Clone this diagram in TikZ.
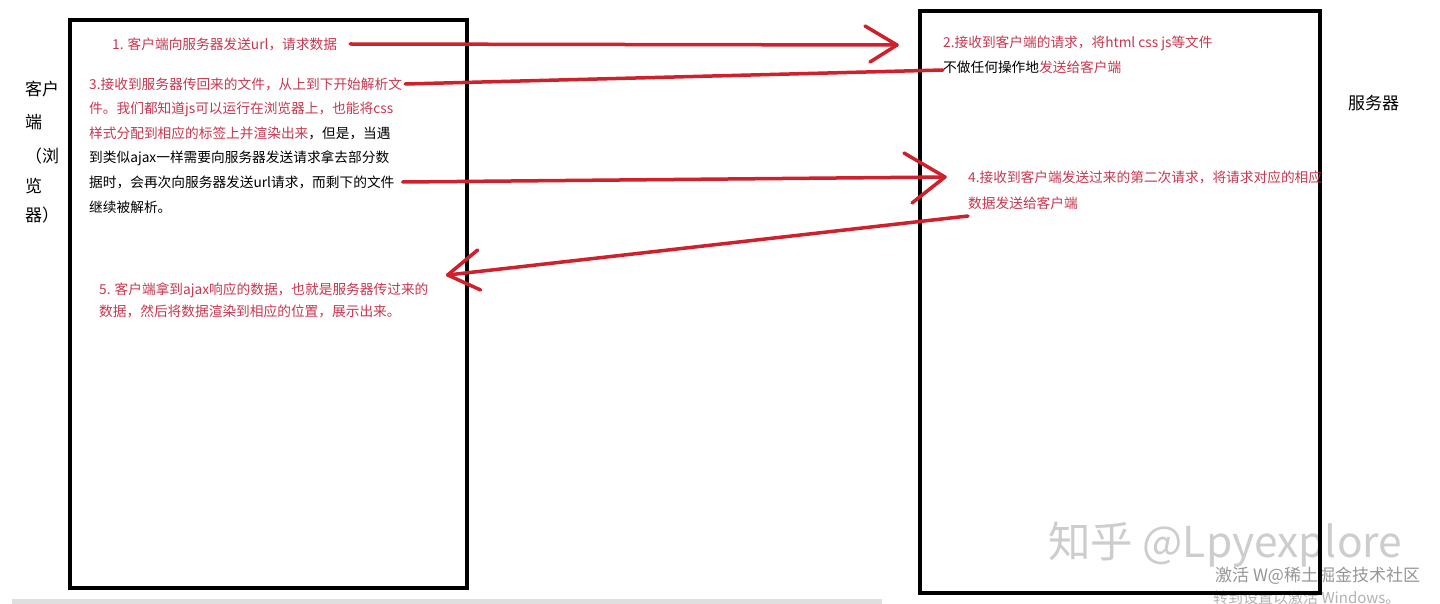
\documentclass[tikz,border=0pt]{standalone}
\usepackage{fontspec}
\newfontfamily\cjk{Noto Sans CJK SC}
\definecolor{tred}{RGB}{200,55,80}
\definecolor{ared}{RGB}{208,32,44}
\definecolor{wmgray}{RGB}{205,205,205}
\definecolor{wmdark}{RGB}{150,150,150}
\definecolor{wmlight}{RGB}{178,178,178}
\begin{document}
\begin{tikzpicture}[x=1pt,y=-1pt,
  box/.style={draw=black,line width=4pt},
  txt/.style={anchor=base west,inner sep=0pt,font=\cjk\fontsize{13.7}{16}\selectfont,text=tred},
  blk/.style={text=black},
  side/.style={anchor=base west,inner sep=0pt,font=\cjk\fontsize{17}{20}\selectfont,text=black},
  conn/.style={draw=ared,line width=3.5pt,line cap=round,line join=round},
  wm/.style={anchor=base west,inner sep=0pt},
]
\useasboundingbox (0,0) rectangle (1440,604);
\fill[white] (0,0) rectangle (1440,604);
\fill[gray!25] (12,599) rectangle (882,604);

% watermarks
\node[wm,font=\cjk\fontsize{42.5}{46}\selectfont,text=wmgray] (wm1) at (1048,557) {知乎 @Lpyexplore};
\node[wm,font=\cjk\fontsize{17}{20}\selectfont,text=wmdark] (wm2) at (1215,581) {激活 W@稀土掘金技术社区};
\node[wm,font=\cjk\fontsize{15}{18}\selectfont,text=wmlight] (wm3) at (1213,603) {转到设置以激活 Windows。};

% boxes
\draw[box] (70,20) rectangle (467,588);
\draw[box] (920,11) rectangle (1320,593);

% side labels
\node[side] (c1) at (25,96) {客户};
\node[side] (c2) at (25,129) {端};
\node[side] (c3) at (25,163) {（浏};
\node[side] (c4) at (25,193) {览};
\node[side] (c5) at (25,222) {器）};
\node[side] (srv) at (1348,110) {服务器};

% client texts
\node[txt] (l1) at (112,50) {1. 客户端向服务器发送url，请求数据};
\node[txt] (p3a) at (89,90) {3.接收到服务器传回来的文件，从上到下开始解析文};
\node[txt] (p3b) at (89,114) {件。我们都知道js可以运行在浏览器上，也能将css};
\node[txt] (p3c) at (89,139) {样式分配到相应的标签上并渲染出来\textcolor{black}{，但是，当遇}};
\node[txt,blk] (p3d) at (89,163) {到类似ajax一样需要向服务器发送请求拿去部分数};
\node[txt,blk] (p3e) at (89,188) {据时，会再次向服务器发送url请求，而剩下的文件};
\node[txt,blk] (p3f) at (89,213) {继续被解析。};
\node[txt] (p5a) at (99,294) {5. 客户端拿到ajax响应的数据，也就是服务器传过来的};
\node[txt] (p5b) at (99,316) {数据，然后将数据渲染到相应的位置，展示出来。};

% server texts
\node[txt] (p2a) at (943,48) {2.接收到客户端的请求，将html css js等文件};
\node[txt] (p2b) at (943,73) {\textcolor{black}{不做任何操作地}发送给客户端};
\node[txt] (p4a) at (968,183) {4.接收到客户端发送过来的第二次请求，将请求对应的相应};
\node[txt] (p4b) at (968,208) {数据发送给客户端};

% tips
\coordinate (t1) at ([shift={(-46,-3)}]p2a.base west);
\coordinate (t3) at ([shift={(-23,-6)}]p4a.base west);
\coordinate (t4) at ([shift={(19,-19)}]p5a.base east);

% connectors
\draw[conn] ([shift={(13,-6)}]l1.base east) -- (t1);
\draw[conn] (t1) -- ++(-32,-19) (t1) -- ++(-27,17);
\draw[conn] ([shift={(3,-6)}]p3a.base east) -- ([shift={(0,-3)}]p2b.base west);
\draw[conn] ([shift={(8,-6)}]p3e.base east) -- (t3);
\draw[conn] (t3) -- ++(-41,-24) (t3) -- ++(-33,26);
\draw[conn] ([shift={(0,8)}]p4b.base west) -- (t4);
\draw[conn] (t4) -- ++(30,-25) (t4) -- ++(33,15);
\end{tikzpicture}
\end{document}
